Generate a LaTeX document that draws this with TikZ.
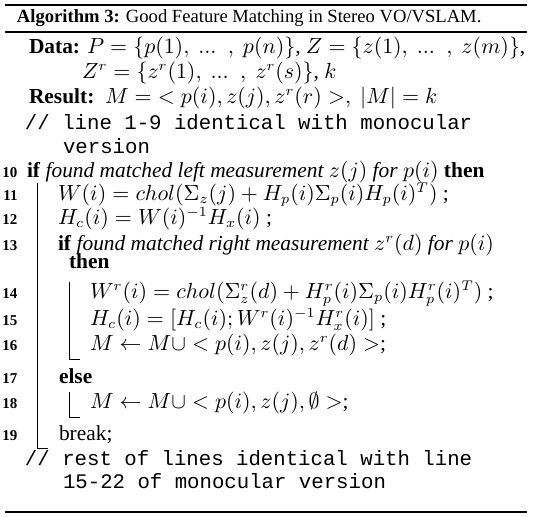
\documentclass[tikz,border=0pt]{standalone}
\usepackage[no-math]{fontspec}
\setmainfont{Liberation Serif}
\setmonofont{Liberation Mono}
\newcommand{\mainsz}{\fontsize{10.7}{12}\selectfont}
\newcommand{\capsz}{\fontsize{9.3}{11}\selectfont}
\newcommand{\numsz}{\fontsize{7.5}{9}\selectfont}
\newcommand{\cmtsz}{\fontsize{10.35}{12}\selectfont}
\begin{document}
\begin{tikzpicture}[x=0.5pt,y=-0.5pt,
  every node/.style={inner sep=0pt,outer sep=0pt,anchor=base west},
  txt/.style={font=\mainsz},
  labtxt/.style={font=\mainsz\bfseries},
  captxt/.style={font=\capsz},
  num/.style={anchor=base east,font=\numsz\bfseries},
  cmt/.style={font=\cmtsz\ttfamily},
  thickrule/.style={line width=1pt},
  midrule/.style={line width=0.65pt},
  blockbar/.style={line width=0.45pt}]
\useasboundingbox (0,0) rectangle (535,516);
% rules
\coordinate (r1a) at (5,5.3); \coordinate (r1b) at (527,5.3);
\coordinate (r2a) at (5,32); \coordinate (r2b) at (527,32);
\coordinate (r3a) at (5,511.5); \coordinate (r3b) at (527,511.5);
\draw[thickrule] (r1a) -- (r1b);
\draw[midrule] (r2a) -- (r2b);
\draw[thickrule] (r3a) -- (r3b);
% caption
\node[captxt] (cap) at (17,22) {\textbf{Algorithm 3:} Good Feature Matching in Stereo VO/VSLAM.};
% data / result
\node[labtxt] (data) at (29,53) {Data:};
\node[txt] (datav) at (87,53) {$P=\{p(1),~...~\;,~p(n)\}$, $Z=\{z(1),~...~\;,~z(m)\}$,};
\node[txt] (datav2) at (82,78) {$Z^r=\{z^r(1),~...~\;,~z^r(s)\}$, $k$};
\node[labtxt] (res) at (29,103) {Result:};
\node[txt] (resv) at (105,103) {$M=\;<p(i),z(j),z^r(r)>,~|M|=k$};
\node[cmt] (c1) at (25,129) {// line 1-9 identical with monocular};
\node[cmt] (c1b) at (63,153) {version};
% line numbers
\node[num] (n10) at (17.5,177) {10};
\node[num] (n11) at (17.5,200) {11};
\node[num] (n12) at (17.5,224) {12};
\node[num] (n13) at (17.5,250) {13};
\node[num] (n14) at (17.5,298) {14};
\node[num] (n15) at (17.5,325) {15};
\node[num] (n16) at (17.5,350) {16};
\node[num] (n17) at (17.5,383) {17};
\node[num] (n18) at (17.5,408) {18};
\node[num] (n19) at (17.5,440) {19};
% lines
\node[txt] (l10) at (27,177) {\textbf{if} \textit{found matched left measurement $z(j)$ for $p(i)$} \textbf{then}};
\node[txt] (l11) at (58,200) {$W(i)=chol(\Sigma_z(j)+H_p(i)\Sigma_p(i)H_p(i)^T)$ ;};
\node[txt] (l12) at (58,224) {$H_c(i)=W(i)^{-1}H_x(i)$ ;};
\node[txt] (l13) at (58,250) {\textbf{if} \textit{found matched right measurement $z^r(d)$ for $p(i)$}};
\node[txt] (l13b) at (69,268) {\textbf{then}};
\node[txt] (l14) at (90,298) {$W^r(i)=chol(\Sigma^r_z(d)+H^r_p(i)\Sigma_p(i)H^r_p(i)^T)$ ;};
\node[txt] (l15) at (90,325) {$H_c(i)=[H_c(i);W^r(i)^{-1}H^r_x(i)]$ ;};
\node[txt] (l16) at (90,350) {$M\leftarrow M\cup<p(i),z(j),z^r(d)>$;};
\node[txt] (l17) at (59,383) {\textbf{else}};
\node[txt] (l18) at (90,408) {$M\leftarrow M\cup<p(i),z(j),\emptyset>$;};
\node[txt] (l19) at (59,440) {break;};
\node[cmt] (c2) at (25,465) {// rest of lines identical with line};
\node[cmt] (c2b) at (63,488) {15-22 of monocular version};
% block bars
\coordinate (b1t) at (37.3,183); \coordinate (b1b) at (37.3,448); \coordinate (b1e) at (48,448);
\coordinate (b2t) at (69.3,282); \coordinate (b2b) at (69.3,359); \coordinate (b2e) at (80,359);
\coordinate (b3t) at (69.3,392); \coordinate (b3b) at (69.3,417); \coordinate (b3e) at (80,417);
\draw[blockbar] (b1t) -- (b1b) -- (b1e);
\draw[blockbar] (b2t) -- (b2b) -- (b2e);
\draw[blockbar] (b3t) -- (b3b) -- (b3e);
\end{tikzpicture}
\end{document}
